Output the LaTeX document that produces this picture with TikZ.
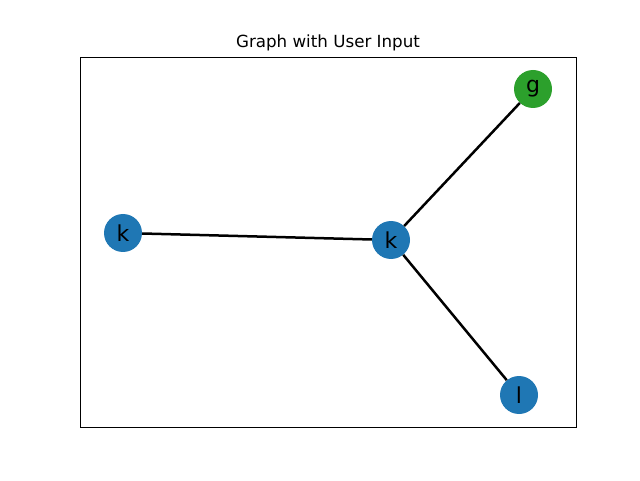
\documentclass[tikz,border=0pt]{standalone}
\usepackage{fontspec}
\setmainfont{DejaVu Sans}
\definecolor{tabblue}{HTML}{1F77B4}
\definecolor{tabgreen}{HTML}{2CA02C}
\tikzset{
  gnode/.style={circle, fill=tabblue, minimum size=38pt, inner sep=0pt, font=\fontsize{22pt}{24pt}\selectfont},
  gnodeg/.style={gnode, fill=tabgreen},
  edge/.style={line width=2.5pt, black}
}
\begin{document}
\begin{tikzpicture}[x=1pt,y=1pt]
\useasboundingbox (0,0) rectangle (640,480);
\draw[line width=1pt] (80,53) rectangle (576,422) ;
\node[font=\fontsize{16.7pt}{18pt}\selectfont] (title) at (328,437) {Graph with User Input};
\node[gnode] (k1) at (123,247) {k};
\node[gnode] (k2) at (391,240) {k};
\node[gnodeg] (g) at (533,391) {g};
\node[gnode] (l) at (519,85) {l};
\draw[edge] (k1) -- (k2);
\draw[edge] (k2) -- (g);
\draw[edge] (k2) -- (l);
\end{tikzpicture}
\end{document}
